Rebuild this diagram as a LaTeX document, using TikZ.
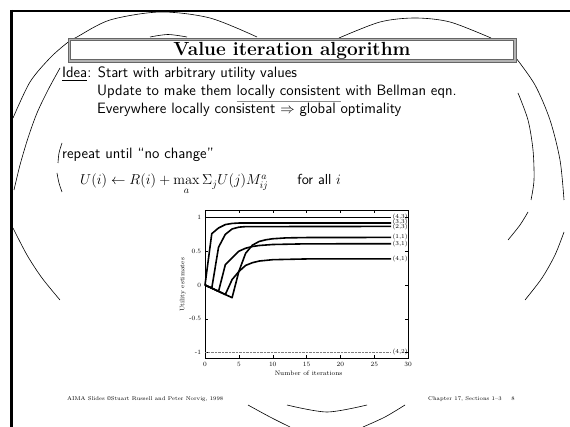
\documentclass[tikz,border=0pt]{standalone}
\usepackage{amsmath}
\usepackage{xcolor}
\newcommand{\grayul}[1]{\textcolor{black!45}{\underline{\textcolor{black}{#1}}}}
\begin{document}
\begin{tikzpicture}[x=1pt,y=-1pt,
  arcline/.style={line width=0.6pt},
  curve/.style={line width=1.6pt, line join=round},
  ticklab/.style={font=\fontsize{6.5}{7}\selectfont, inner sep=1pt},
  serieslab/.style={font=\fontsize{6}{6}\selectfont, inner sep=0.5pt, anchor=west},
  body/.style={font=\fontsize{15}{17}\selectfont\sffamily, anchor=base west, inner sep=0pt},
  foot/.style={font=\fontsize{5.5}{6}\selectfont, inner sep=0pt},
]
\useasboundingbox (0,0) rectangle (570,427);
\fill[white] (0,0) rectangle (570,427);

% decorative arcs
\draw[arcline] plot[smooth] coordinates {(13,118) (30,82) (50,58) (67,43) (77,37) (110,20) (160,12) (210,18) (257,37)};
\draw[arcline] plot[smooth] coordinates {(150,37) (168,34.5) (187,37)};
\draw[arcline] plot[smooth] coordinates {(60,68) (48,90) (37,113) (28,138) (20,165) (14,190)};
\draw[arcline] plot[smooth] coordinates {(13,228) (27,255) (42,278) (60,300)};
\draw[arcline] plot[smooth] coordinates {(62,143) (59,153) (58,163)};
\draw[arcline] plot[smooth] coordinates {(57,173) (59,183) (62,192)};
\draw[arcline] plot[smooth] coordinates {(339,38) (380,22) (415,18) (450,22) (491,38)};
\draw[arcline] plot[smooth] coordinates {(516,58) (535,85) (550,120) (560,160) (564,200)};
\draw[arcline] plot[smooth] coordinates {(564,232) (555,255) (542,278) (525,300)};
\draw[arcline] plot[smooth] coordinates {(518,93) (528,120) (533,150) (534,180) (531,200)};
\draw[arcline] plot[smooth] coordinates {(528,212) (520,225) (508,240)};
\draw[arcline] plot[smooth] coordinates {(248,405) (270,417) (290,427)};
\draw[arcline] plot[smooth] coordinates {(363,427) (385,417) (405,405)};
\draw[arcline] plot[smooth] coordinates {(287,405) (327,412) (367,405)};

% frame
\draw[line width=2pt] (10,11) -- (570,11);
\draw[line width=3pt] (11,10) -- (11,427);

% title box
\node[draw=black!60, fill=black!30, minimum width=448pt, minimum height=24pt, inner sep=0pt, line width=0.6pt] (tbox) at (292,50) {};
\node[draw=black!60, fill=white, minimum width=443pt, minimum height=19pt, inner sep=0pt, line width=0.6pt] (tin) at (292,50) {};
\node[font=\fontsize{19}{21}\selectfont\bfseries] (title) at (292,50.5) {Value iteration algorithm};

% body
\node[body] (l1) at (62,78) {\underline{Idea}: Start with arbitrary utility values};
\node[body] (l2) at (97,96) {Update to make them \grayul{locally consistent} with Bellman eqn.};
\node[body] (l3) at (97,114) {Everywhere locally consistent $\Rightarrow$ global optimality};
\node[body] (l4) at (62,159) {repeat until ``no change''};
\node[body, font=\fontsize{14.5}{16}\selectfont\sffamily] (l5) at (80,185) {$U(i) \leftarrow R(i) + \max\limits_a \Sigma_j U(j) M^a_{ij}$\qquad for all $i$};

% plot
\begin{scope}[shift={(205,285)}, x=6.77pt, y=67.5pt]
  \draw[line width=0.5pt] (0,-1.08) rectangle (30,1.1);
  \foreach \t in {0,5,...,30} {
    \draw[line width=0.4pt] (\t,-1.08) -- ++(0,0.04);
    \draw[line width=0.4pt] (\t,1.1) -- ++(0,-0.04);
    \node[ticklab, anchor=north] at (\t,-1.12) {\t};
  }
  \foreach \v/\l in {1/1,0.5/0.5,0/0,-0.5/-0.5,-1/-1} {
    \draw[line width=0.4pt] (0,\v) -- ++(0.5,0);
    \draw[line width=0.4pt] (30,\v) -- ++(-0.5,0);
    \node[ticklab, anchor=east] at (-0.4,\v) {\l};
  }
  \node[ticklab, rotate=90] (ylab) at (-3.3,0) {Utility estimates};
  \node[ticklab] (xlab) at (15.3,-1.31) {Number of iterations};
  \draw[curve] (0,1) -- (27.5,1);
  \draw[curve] (0,0) -- (1,0.76) -- (2,0.845) -- (3,0.895) -- (4,0.912) -- (5,0.918) -- (27.5,0.918);
  \draw[curve] (0,0) -- (1,-0.047) -- (2,0.56) -- (3,0.75) -- (4,0.83) -- (5,0.857) -- (6,0.865) -- (27.5,0.868);
  \draw[curve] (0,0) -- (4,-0.188) -- (5,0.2) -- (6,0.47) -- (7,0.59) -- (8,0.645) -- (9,0.67) -- (10,0.685) -- (12,0.698) -- (15,0.703) -- (27.5,0.705);
  \draw[curve] (0,0) -- (2,-0.094) -- (3,0.3) -- (4,0.4) -- (5,0.5) -- (6,0.545) -- (7,0.57) -- (8,0.585) -- (10,0.6) -- (15,0.61) -- (27.5,0.611);
  \draw[curve] (0,0) -- (3,-0.141) -- (4,0.08) -- (5,0.2) -- (6,0.29) -- (7,0.33) -- (8,0.355) -- (10,0.375) -- (15,0.386) -- (27.5,0.388);
  \draw[densely dotted, line width=0.4pt, black!50] (0,-1) -- (27.5,-1);
  \node[serieslab] at (27.6,1.01) {(4,3)};
  \node[serieslab] at (27.6,0.94) {(3,3)};
  \node[serieslab] at (27.6,0.86) {(2,3)};
  \node[serieslab] at (27.6,0.705) {(1,1)};
  \node[serieslab] at (27.6,0.611) {(3,1)};
  \node[serieslab] at (27.6,0.388) {(4,1)};
  \node[serieslab] at (27.6,-1) {(4,2)};
\end{scope}

% footer
\node[foot, anchor=west] (fl) at (67,399) {AIMA Slides \copyright Stuart Russell and Peter Norvig, 1998};
\node[foot, anchor=east] (fr) at (502,399) {Chapter 17, Sections 1--3};
\node[foot] (pg) at (513,399) {8};
\end{tikzpicture}
\end{document}
